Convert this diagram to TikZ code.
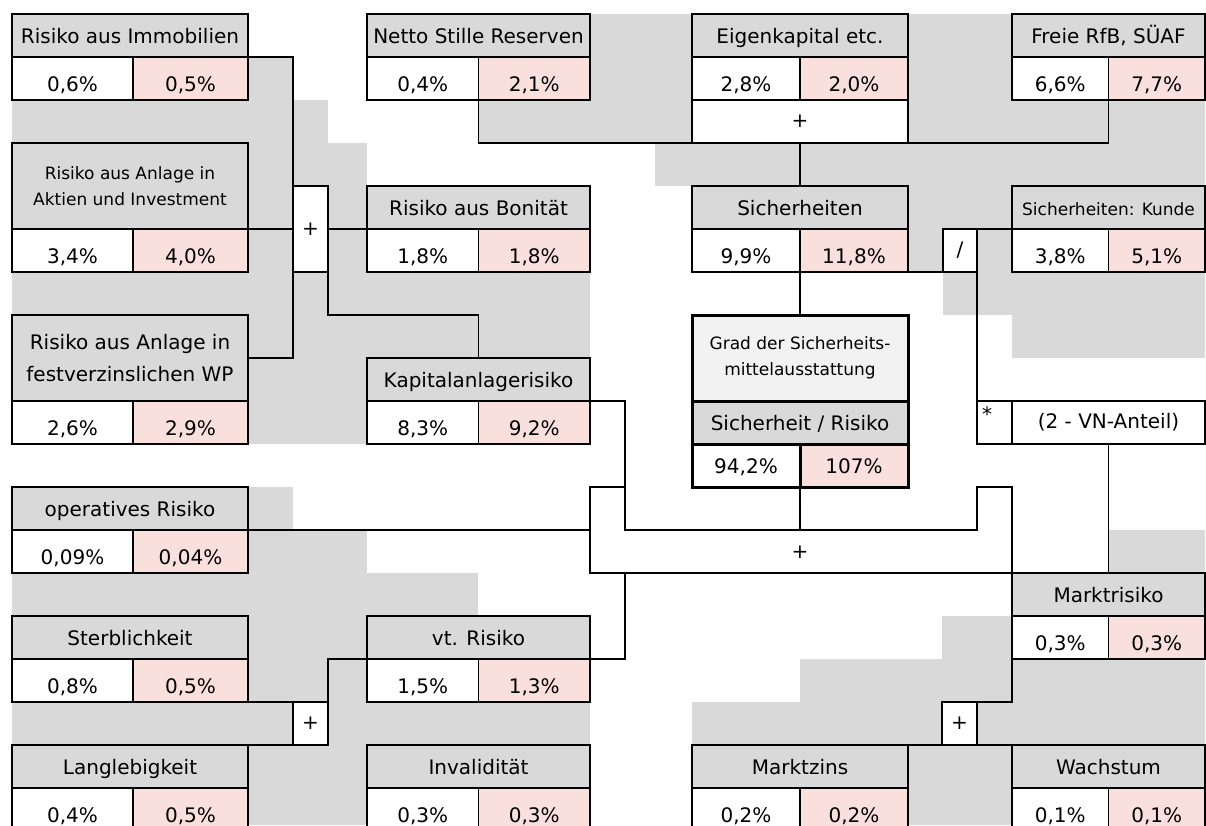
\documentclass[tikz,border=0pt]{standalone}
\usepackage{fontspec}
\setmainfont{DejaVu Sans}
\usepackage{tikz}
\definecolor{cellgray}{RGB}{217,217,217}
\definecolor{cellrose}{RGB}{249,224,220}
\definecolor{cellpale}{RGB}{242,242,242}
\newcommand\fnorm{\fontsize{20}{32}\selectfont}
\newcommand\fsmall{\fontsize{17}{26}\selectfont}

\begin{document}
\begin{tikzpicture}[x=1pt,y=-1pt,
    cell/.style={draw,line width=1.3pt,inner sep=0pt,outer sep=0pt,anchor=north west,minimum height=43pt,font=\fnorm},
    hd/.style={cell,fill=cellgray,text height=17pt,text depth=2pt},
    hdtwo/.style={cell,fill=cellgray,minimum height=86pt,align=center},
    vl/.style={cell,fill=white,text height=26pt,text depth=0pt},
    vr/.style={vl,fill=cellrose},
    opcell/.style={cell,fill=white},
    grd/.style={cell,line width=3pt,text height=17pt,text depth=2pt},
    wire/.style={line width=1.3pt}]
  \useasboundingbox (0,0) rectangle (1206,825);
  % grey background of the sheet
  \foreach \xa/\ya/\xb/\yb in {248/57/293/100, 12/100/328/143, 248/143/367/186, 248/186/367/272,
      12/272/590/315, 248/315/590/358, 248/358/367/444, 248/487/293/530, 248/530/367/573,
      12/573/478/616, 248/616/367/702, 12/702/590/745, 248/745/367/825,
      590/14/692/100, 908/14/1012/100, 478/100/692/143, 908/100/1205/143, 655/143/1205/186,
      908/186/1012/272, 943/272/1205/315, 1012/315/1205/358, 1109/530/1205/573,
      942/616/1012/659, 800/659/1205/702, 692/702/1205/745, 908/745/1012/825}
    \fill[cellgray] (\xa,\ya) rectangle (\xb,\yb);
  % boxes: title, then two values
  \foreach \n/\x/\y/\wa/\wb/\ti/\va/\vb in {
      imm/12/14/121/115/{Risiko aus Immobilien}/{0,6\%}/{0,5\%},
      nsr/367/14/111.5/111.5/{Netto Stille Reserven}/{0,4\%}/{2,1\%},
      eig/692/14/108/108/{Eigenkapital etc.}/{2,8\%}/{2,0\%},
      frb/1012/14/96.5/96.5/{Freie RfB, SÜAF}/{6,6\%}/{7,7\%},
      bon/367/186/111.5/111.5/{Risiko aus Bonität}/{1,8\%}/{1,8\%},
      sich/692/186/108/108/{Sicherheiten}/{9,9\%}/{11,8\%},
      kap/367/358/111.5/111.5/{Kapitalanlagerisiko}/{8,3\%}/{9,2\%},
      ops/12/487/121/115/{operatives Risiko}/{0,09\%}/{0,04\%},
      mkt/1012/573/96.5/96.5/{Marktrisiko}/{0,3\%}/{0,3\%},
      ster/12/616/121/115/{Sterblichkeit}/{0,8\%}/{0,5\%},
      vt/367/616/111.5/111.5/{vt. Risiko}/{1,5\%}/{1,3\%},
      lang/12/745/121/115/{Langlebigkeit}/{0,4\%}/{0,5\%},
      inv/367/745/111.5/111.5/{Invalidität}/{0,3\%}/{0,3\%},
      mz/692/745/108/108/{Marktzins}/{0,2\%}/{0,2\%},
      wa/1012/745/96.5/96.5/{Wachstum}/{0,1\%}/{0,1\%}}{
    \node[hd,minimum width=\wa+\wb] (\n) at (\x,\y) {\ti};
    \node[vl,minimum width=\wa] (\n-l) at (\n.south west) {\va};
    \node[vr,minimum width=\wb] (\n-r) at (\n-l.north east) {\vb};}
  \node[hd,font=\fsmall,minimum width=193] (kun) at (1012,186) {Sicherheiten: Kunde};
  \node[vl,minimum width=96.5] (kun-l) at (kun.south west) {3,8\%};
  \node[vr,minimum width=96.5] (kun-r) at (kun-l.north east) {5,1\%};
  \node[hdtwo,font=\fsmall,minimum width=236] (akt) at (12,143) {Risiko aus Anlage in\\Aktien und Investment};
  \node[vl,minimum width=121] (akt-l) at (akt.south west) {3,4\%};
  \node[vr,minimum width=115] (akt-r) at (akt-l.north east) {4,0\%};
  \node[hdtwo,minimum width=236] (fest) at (12,315) {Risiko aus Anlage in\\festverzinslichen WP};
  \node[vl,minimum width=121] (fest-l) at (fest.south west) {2,6\%};
  \node[vr,minimum width=115] (fest-r) at (fest-l.north east) {2,9\%};
  % result box
  \node[cell,line width=3pt,fill=cellpale,minimum width=216,minimum height=86,align=center,font=\fsmall] (grad) at (692,315) {Grad der Sicherheits-\\mittelausstattung};
  \node[grd,fill=cellgray,minimum width=216] (gradq) at (grad.south west) {Sicherheit / Risiko};
  \node[grd,fill=white,minimum width=108] (grad-l) at (gradq.south west) {94,2\%};
  \node[grd,fill=cellrose,minimum width=108] (grad-r) at (grad-l.north east) {107\%};
  % operator cells
  \node[opcell,minimum width=216] (eigp) at (692,100) {+};
  \node[opcell,minimum width=35,minimum height=86] (plusA) at (293,186) {+};
  \node[opcell,minimum width=34] (div) at (943,229) {/};
  \node[opcell,minimum width=35] (mul) at (977,401) {};
  \node[font=\fnorm,anchor=north west,inner sep=5pt] (star) at (mul.north west) {*};
  \node[opcell,minimum width=193] (vn) at (1012,401) {(2 - VN-Anteil)};
  \node[opcell,minimum width=35] (plusL) at (293,702) {+};
  \node[opcell,minimum width=35] (plusB) at (942,702) {+};
  \node[font=\fnorm] (sum) at (800,552) {+};
  \coordinate (k1) at (478.5,315);
  \coordinate (s1) at (625,530);
  \coordinate (s2) at (977,487);
  \coordinate (t1) at (625,487);
  \coordinate (t2) at (590,573);
  \coordinate (t3) at (625,573);
  % connectors
  \draw[wire] (imm.south east) -| (plusA.north west) -- (plusA.south west) |- (fest.east);
  \draw[wire] (akt.south east) -- (plusA.west);
  \draw[wire] (plusA.east) -- (bon.south west);
  \draw[wire] (plusA.south east) |- (k1) -- (kap.north);
  \draw[wire] (nsr-l.south east) |- (eigp.south west);
  \draw[wire] (frb-l.south east) |- (eigp.south east);
  \draw[wire] (eigp.south) -- (sich.north);
  \draw[wire] (sich-l.south east) -- (grad.north);
  \draw[wire] (sich-r.south east) -- (div.south west);
  \draw[wire] (div.north east) -- (kun.south west);
  \draw[wire] (div.south east) -- (mul.north west);
  \draw[wire] (vn.south) -- (mkt.north);
  \draw[wire] (kap-r.north east) -| (s1) -| (s2) -| (mkt.north west) |- (plusB.north west);
  \draw[wire] (grad-l.south east) -- (grad-l.south east |- s1);
  \draw[wire] (t1) -| (t2) -- (mkt.north west);
  \draw[wire] (ops.south east) -- (ops.south east -| t2);
  \draw[wire] (t3) |- (vt.south east);
  \draw[wire] (ster-r.south east) -- (plusL.north west);
  \draw[wire] (plusL.north east) |- (vt.south west);
  \draw[wire] (lang.north east) -- (plusL.south west);
  \draw[wire] (mz.north east) -- (plusB.south west);
  \draw[wire] (plusB.south east) -- (wa.north west);
\end{tikzpicture}
\end{document}
